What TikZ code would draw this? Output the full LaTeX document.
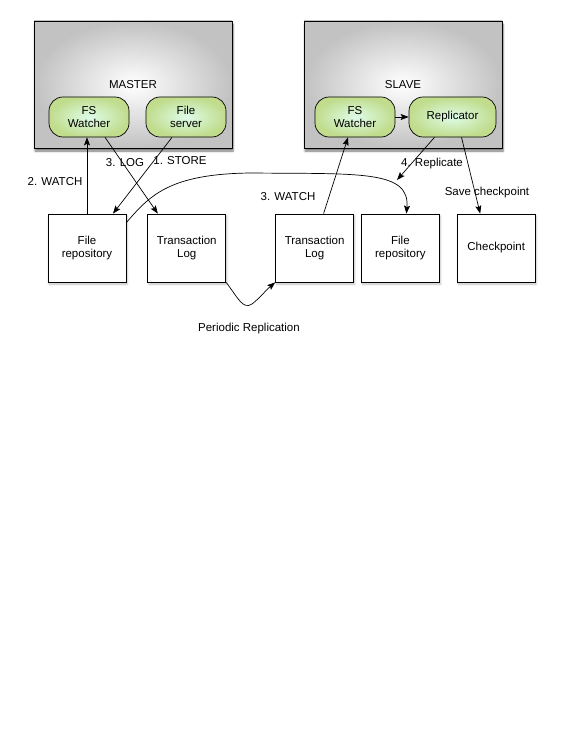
\documentclass[tikz,border=0pt]{standalone}
\usepackage{fontspec}
\setmainfont{Liberation Sans}
\usetikzlibrary{positioning}
\usetikzlibrary{arrows.meta}
\usetikzlibrary{shadows.blur}
\definecolor{procedge}{RGB}{192,220,140}
\definecolor{proccore}{RGB}{222,252,232}
\tikzset{x=1pt, y=-1pt, % Work in pixels of the page, y going down
      every node/.style={font=\fontsize{11.5}{13.5}\selectfont},
      host/.style={ % Sets the properties for MASTER and SLAVE
      draw, line width=0.8pt,
      minimum width=198pt, minimum height=127pt,
      inner color=white, outer color=gray!48,
      blur shadow={shadow xshift=1pt, shadow yshift=-3pt, shadow opacity=55, shadow blur steps=6}},
      proc/.style={ % Rounded processes inside a host
      draw, line width=0.7pt,
      rounded corners=14pt,
      minimum width=80pt, minimum height=40pt,
      align=center, inner sep=1pt,
      inner color=proccore, outer color=procedge},
      store/.style={ % Square stores at the bottom
      draw, line width=0.8pt, fill=white,
      minimum width=78pt, minimum height=68pt,
      align=center,
      blur shadow={shadow xshift=1pt, shadow yshift=-2pt, shadow opacity=25, shadow blur steps=4}},
      link/.style={ % Sets the properties for each connector
      draw, -{Stealth[length=8pt, width=6pt, inset=1.5pt]}, line width=0.7pt}}

\begin{document}
\begin{tikzpicture}
      \useasboundingbox (0,0) rectangle (576,733);
      % hosts
      \node[host] (master) at (133,84.5) {MASTER};
      \node[host] (slave) at (403,84.5) {SLAVE};
      \node[proc] (fsw1) at (89,117) {FS\\Watcher};
      \node[proc] (fs) at (186,117) {File\\server};
      \node[proc] (fsw2) at (355,117) {FS\\Watcher};
      \node[proc, minimum width=87pt] (rep) at (452.5,117) {Replicator};
      % stores
      \node[store] (fr1) at (87,248) {File\\repository};
      \node[store, right=21pt of fr1] (tl1) {Transaction\\Log};
      \node[store, right=49pt of tl1] (tl2) {Transaction\\Log};
      \node[store, right=7pt of tl2] (fr2) {File\\repository};
      \node[store, right=17pt of fr2] (cp) {Checkpoint};
      \coordinate (rp) at (397,180);
      % master side
      \draw[link] (fr1.north) -- (fr1.north |- fsw1.south);
      \draw[link] ([xshift=16pt]fsw1.south) -- ([xshift=-29pt]tl1.north);
      \draw[link] ([xshift=-14pt]fs.south) -- ([xshift=26pt]fr1.north);
      \draw[link] ([yshift=-9pt]fr1.north east) .. controls (150,195) and (170,174) .. (250,173)
            .. controls (360,174) and (410,170) .. ([xshift=6pt]fr2.north);
      \draw[link] (tl1.south east) .. controls (238,298) and (243,310) .. (252,304)
            .. controls (260,298) and (266,290) .. (tl2.south west);
      % slave side
      \draw[link] (fsw2.east) -- (rep.west);
      \draw[link] ([xshift=9pt]tl2.north) -- ([xshift=-7pt]fsw2.south);
      \draw[link] ([xshift=-18pt]rep.south) -- (rp);
      \draw[link] ([xshift=9pt]rep.south) -- ([xshift=-16pt]cp.north);
      % labels
      \node (lwatch1) at (55,182) {2. WATCH};
      \node (llog) at (125,163) {3. LOG};
      \node (lstore) at (180,161) {1. STORE};
      \node (lwatch2) at (288,197) {3. WATCH};
      \node (lrep) at (432,164) {4. Replicate};
      \node (lcp) at (487,193) {Save checkpoint};
      \node (lper) at (249,329) {Periodic Replication};
\end{tikzpicture}
\end{document}
